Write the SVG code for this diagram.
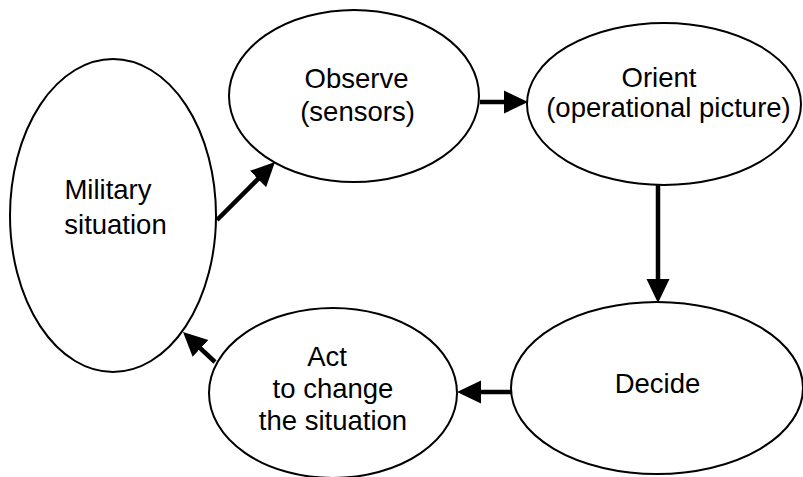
<svg xmlns="http://www.w3.org/2000/svg" width="803" height="477" viewBox="0 0 803 477">
<style>
.node ellipse{fill:#fff;stroke:#000;stroke-width:2}
.node text{font-family:"Liberation Sans",Arial,Helvetica,sans-serif;font-size:27.5px;fill:#000;text-anchor:middle}
.conn line{stroke:#000;stroke-width:4.5;fill:none}
</style>
<defs>
<marker id="ah" markerUnits="userSpaceOnUse" markerWidth="24" markerHeight="24" viewBox="0 0 24 24" refX="14" refY="12" orient="auto">
<path d="M0,0.5 L24,12 L0,23.5 Z" fill="#000"/>
</marker>
</defs>
<rect width="803" height="477" fill="#fff"/>
<g id="military" class="node">
<ellipse cx="113" cy="215.5" rx="103" ry="156.5"/>
<text x="108" y="199">Military</text>
<text x="115.5" y="234">situation</text>
</g>
<g id="observe" class="node">
<ellipse cx="354" cy="96" rx="125" ry="86"/>
<text x="356.5" y="88">Observe</text>
<text x="357.5" y="121">(sensors)</text>
</g>
<g id="orient" class="node">
<ellipse cx="664" cy="104" rx="137" ry="81"/>
<text x="659" y="87">Orient</text>
<text x="668.5" y="117">(operational picture)</text>
</g>
<g id="decide" class="node">
<ellipse cx="657" cy="388" rx="146" ry="86"/>
<text x="657.5" y="393">Decide</text>
</g>
<g id="act" class="node">
<ellipse cx="333" cy="393" rx="124" ry="85"/>
<text x="327" y="366">Act</text>
<text x="333" y="398">to change</text>
<text x="333" y="430">the situation</text>
</g>
<g id="connectors" class="conn">
<line x1="217" y1="220" x2="267.9" y2="169.1" marker-end="url(#ah)"/>
<line x1="480" y1="102" x2="518" y2="102" marker-end="url(#ah)"/>
<line x1="658" y1="185" x2="658" y2="293" marker-end="url(#ah)"/>
<line x1="512" y1="392" x2="467" y2="392" marker-end="url(#ah)"/>
<line x1="215" y1="362" x2="190.3" y2="338.8" marker-end="url(#ah)"/>
</g>
</svg>
